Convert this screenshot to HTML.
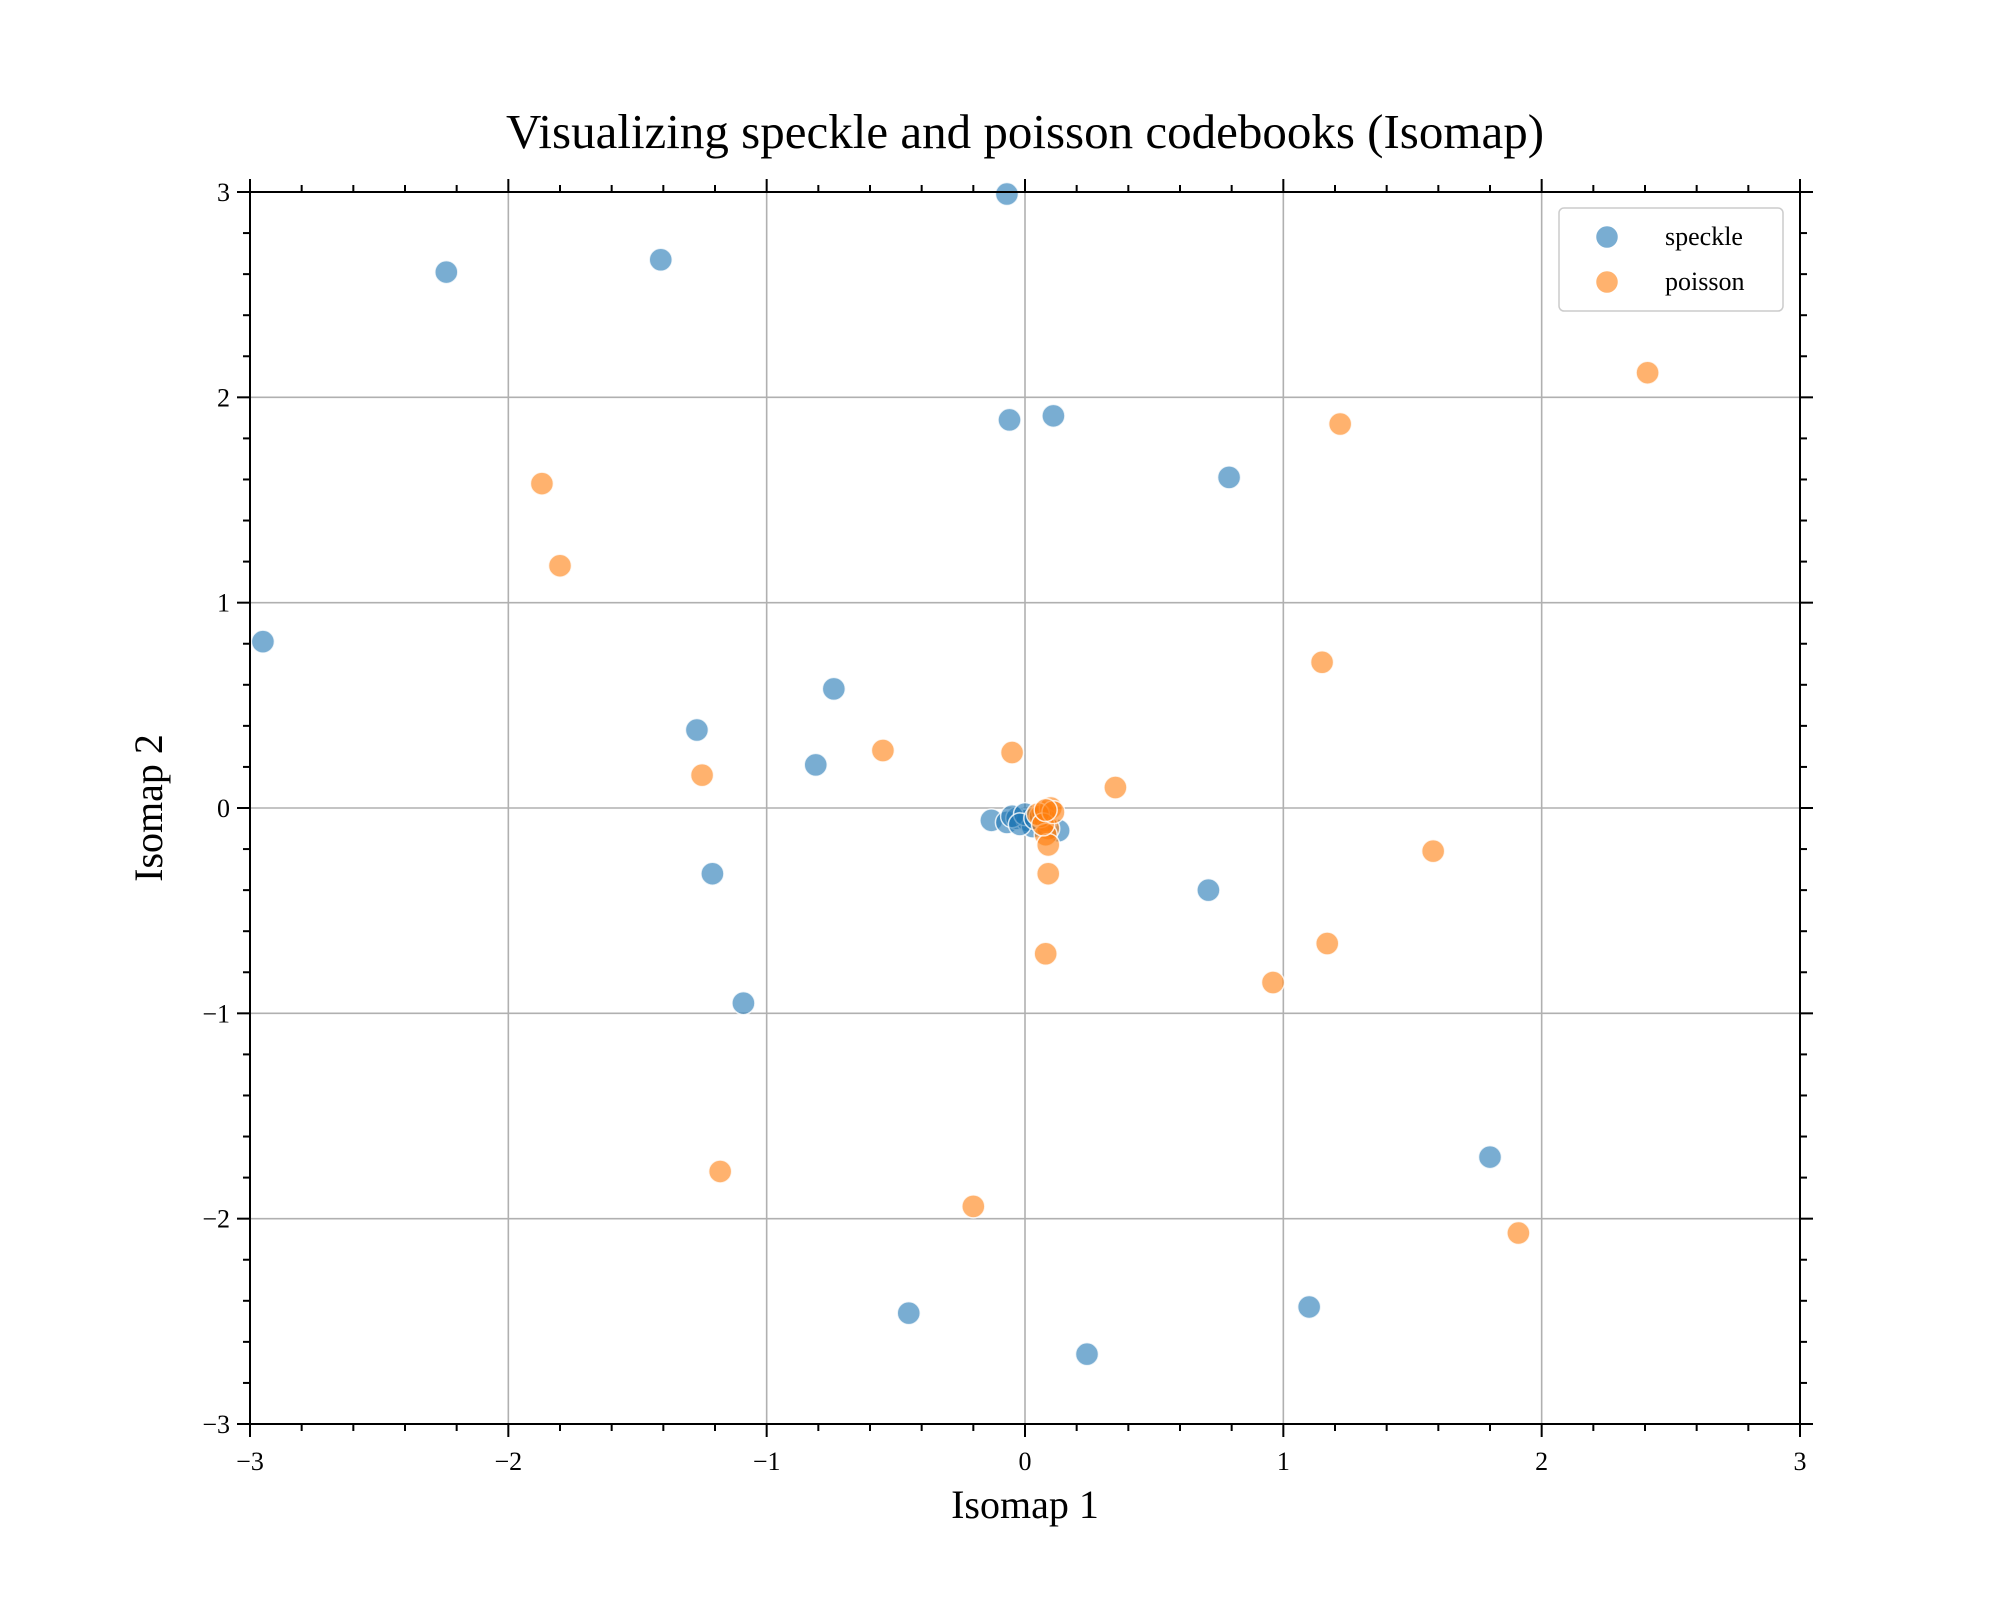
<!DOCTYPE html>
<html><head><meta charset="utf-8"><style>
body{margin:0;background:#fff}
svg{display:block;font-family:"Liberation Serif","DejaVu Serif",serif}
</style></head><body>
<svg id="chart" width="2000" height="1600" viewBox="0 0 2000 1600" xmlns="http://www.w3.org/2000/svg">
<rect width="2000" height="1600" fill="#fff"/>
<text x="1025" y="148" font-size="49" text-anchor="middle">Visualizing speckle and poisson codebooks (Isomap)</text>
<g id="grid"></g>
<g id="marks"></g>
<g id="axes"></g>
<text x="1025" y="1518" font-size="40" text-anchor="middle">Isomap 1</text>
<text x="0" y="0" font-size="40" text-anchor="middle" transform="translate(162,808) rotate(-90)">Isomap 2</text>
<g>
<rect x="1559" y="208" width="224" height="103" rx="5" fill="#fff" stroke="#ccc" stroke-width="1.5"/>
<g>
<circle cx="1607" cy="237" r="11.5" fill="#1f77b4" fill-opacity="0.6" stroke="#fff" stroke-width="1.5"/>
<text x="1665" y="245" font-size="26">speckle</text></g>
<g>
<circle cx="1607" cy="282" r="11.5" fill="#ff7f0e" fill-opacity="0.6" stroke="#fff" stroke-width="1.5"/>
<text x="1665" y="290" font-size="26">poisson</text></g>
</g>
</svg>
<script>
const speckleX=[-0.07,-2.24,-1.41,-0.06,0.11,0.79,-2.95,-0.74,-1.27,-0.81,-1.21,-1.09,0.71,1.80,-0.45,1.10,0.24,-0.13,-0.07,-0.03,0.01,0.03,0.13,-0.05,0.0,-0.02,0.04];
const speckleY=[2.99,2.61,2.67,1.89,1.91,1.61,0.81,0.58,0.38,0.21,-0.32,-0.95,-0.40,-1.70,-2.46,-2.43,-2.66,-0.06,-0.07,-0.05,-0.06,-0.09,-0.11,-0.04,-0.03,-0.08,-0.05];
const poissonX=[2.41,1.22,-1.87,-1.80,1.15,-0.55,-0.05,-1.25,0.35,1.58,0.09,0.08,1.17,0.96,-1.18,-0.20,1.91,0.07,0.08,0.09,0.06,0.10,0.05,0.08,0.09,0.07,0.11,0.08];
const poissonY=[2.12,1.87,1.58,1.18,0.71,0.28,0.27,0.16,0.10,-0.21,-0.32,-0.71,-0.66,-0.85,-1.77,-1.94,-2.07,-0.02,-0.06,-0.10,-0.04,0.0,-0.03,-0.13,-0.18,-0.08,-0.02,-0.01];
const majorTicks=[-3,-2,-1,0,1,2,3];
const tickLabels=["\u22123","\u22122","\u22121","0","1","2","3"];
const L=250,R=1800,T=192,B=1424;
const sx=v=>L+(v+3)/6*(R-L);
const sy=v=>B-(v+3)/6*(B-T);
const NS="http://www.w3.org/2000/svg";
function mk(tag,attrs,parent){const e=document.createElementNS(NS,tag);for(const k in attrs)e.setAttribute(k,attrs[k]);parent.appendChild(e);return e;}
const grid=document.getElementById('grid'),marks=document.getElementById('marks'),axes=document.getElementById('axes');
majorTicks.forEach((t,i)=>{
  let g=mk('line',{x1:sx(t),x2:sx(t),y1:T,y2:B,stroke:'#b0b0b0','stroke-width':1.6},grid);
  
  
  g=mk('line',{x1:L,x2:R,y1:sy(t),y2:sy(t),stroke:'#b0b0b0','stroke-width':1.6},grid);
  
  
});
function pts(xs,ys,color,name){
  xs.forEach((x,i)=>{
    const c=mk('circle',{cx:sx(x),cy:sy(ys[i]),r:11.5,fill:color,'fill-opacity':0.6,stroke:'#fff','stroke-width':1.5,'stroke-opacity':0.8},marks);
    
    
  });
}
pts(speckleX,speckleY,'#1f77b4','speckle');
pts(poissonX,poissonY,'#ff7f0e','poisson');
mk('rect',{x:L,y:T,width:R-L,height:B-T,fill:'none',stroke:'#000','stroke-width':2},axes);
for(let k=0;k<=30;k++){
  const v=-3+k*0.2;const major=(k%5===0);const len=major?13:7;
  const X=sx(v),Y=sy(v);
  mk('line',{x1:X,x2:X,y1:B,y2:B+len,stroke:'#000','stroke-width':2},axes);
  mk('line',{x1:X,x2:X,y1:T,y2:T-len,stroke:'#000','stroke-width':2},axes);
  mk('line',{x1:L-len,x2:L,y1:Y,y2:Y,stroke:'#000','stroke-width':2},axes);
  mk('line',{x1:R,x2:R+len,y1:Y,y2:Y,stroke:'#000','stroke-width':2},axes);
}
majorTicks.forEach((t,i)=>{
  const tx=mk('text',{x:sx(t),y:B+46,'font-size':26,'text-anchor':'middle'},axes);
  tx.textContent=tickLabels[i];
  
  
  const ty=mk('text',{x:L-20,y:sy(t)+9,'font-size':26,'text-anchor':'end'},axes);
  ty.textContent=tickLabels[i];
  
  
});
</script>
</body></html>
